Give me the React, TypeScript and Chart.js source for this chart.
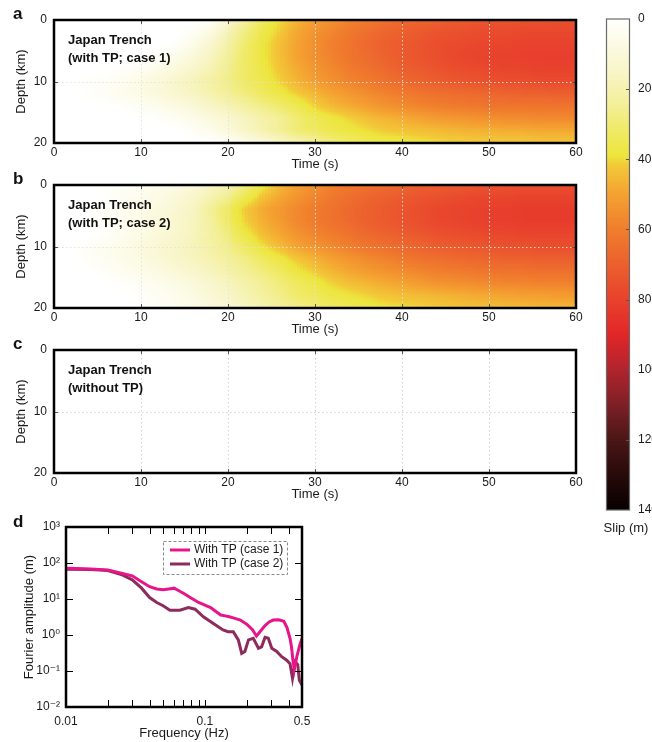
import React, { useEffect, useRef } from "react";
import { Chart, registerables } from "chart.js";
Chart.register(...registerables);

const FONT = "'Liberation Sans', Arial, Helvetica, 'DejaVu Sans', sans-serif";

// ---------- Panels a, b, c : slip (m) vs time (s) and depth (km) ----------
const timeGrid = [0, 2, 4, 6, 8, 10, 12, 14, 16, 18, 20, 22, 24, 26, 28, 30, 32, 34, 36, 38, 40, 42, 44, 46, 48, 50, 52, 54, 56, 58, 60];
const depthGrid = [0, 2, 4, 6, 8, 10, 12, 14, 16, 18, 20];
const timeTicks = [0, 10, 20, 30, 40, 50, 60];
const depthTicks = [0, 10, 20];

// rows = depthGrid, columns = timeGrid
const slipCase1: number[][] = [
  [0, 0, 0, 0, 0, 0, 0, 0, 0, 2, 12, 24, 33, 40, 46, 51, 55, 59, 62, 65, 67, 69, 70, 72, 73, 74, 74, 75, 75, 76, 76],
  [0, 0, 0, 0, 0, 0, 0, 0, 2, 8, 18, 28, 36, 42, 49, 54, 58, 62, 65, 68, 70, 72, 74, 75, 76, 77, 77, 78, 78, 78, 78],
  [0, 0, 0, 0, 0, 0, 0, 1, 6, 13, 22, 31, 38, 44, 50, 55, 60, 63, 67, 70, 72, 74, 76, 77, 78, 79, 79, 80, 80, 80, 80],
  [0, 0, 0, 0, 0, 0, 2, 5, 10, 16, 24, 32, 38, 44, 50, 55, 59, 63, 66, 69, 72, 74, 76, 78, 79, 80, 80, 81, 81, 81, 81],
  [0, 0, 0, 0, 1, 3, 6, 10, 14, 19, 26, 32, 37, 43, 48, 53, 57, 61, 64, 67, 70, 72, 74, 76, 77, 78, 79, 79, 80, 80, 80],
  [0, 0, 1, 2, 4, 7, 10, 14, 18, 22, 27, 32, 36, 41, 46, 51, 55, 58, 61, 64, 67, 69, 71, 73, 74, 75, 76, 76, 77, 77, 77],
  [0, 0, 1, 3, 5, 7, 10, 13, 16, 20, 25, 29, 33, 37, 42, 46, 50, 53, 56, 59, 61, 63, 65, 66, 67, 68, 69, 70, 70, 71, 71],
  [0, 0, 0, 0, 1, 3, 5, 8, 11, 15, 19, 23, 27, 31, 35, 41, 45, 48, 51, 54, 56, 58, 60, 61, 62, 63, 63, 63, 63, 63, 63],
  [0, 0, 0, 0, 0, 0, 1, 3, 6, 9, 13, 17, 21, 25, 30, 35, 38, 41, 44, 46, 48, 50, 52, 53, 54, 55, 56, 56, 57, 57, 57],
  [0, 0, 0, 0, 0, 0, 0, 0, 2, 5, 10, 15, 20, 25, 30, 33, 36, 38, 40, 42, 43, 44, 45, 46, 47, 47, 48, 48, 49, 49, 49],
  [0, 0, 0, 0, 0, 0, 0, 0, 0, 0, 2, 6, 10, 15, 20, 25, 29, 32, 35, 37, 38, 39, 40, 41, 41, 42, 42, 42, 43, 43, 43],
];

const slipCase2: number[][] = [
  [0, 0, 0, 1, 2, 3, 5, 7, 10, 15, 20, 28, 37, 45, 51, 55, 59, 62, 64, 66, 68, 70, 71, 72, 73, 74, 74, 75, 75, 75, 76],
  [0, 0, 0, 1, 3, 5, 7, 10, 14, 19, 26, 35, 43, 49, 54, 58, 62, 65, 68, 70, 72, 74, 75, 77, 78, 79, 79, 80, 80, 80, 80],
  [0, 0, 0, 2, 4, 6, 9, 12, 16, 24, 33, 42, 48, 53, 57, 61, 64, 67, 70, 72, 74, 76, 78, 79, 80, 81, 81, 82, 82, 82, 82],
  [0, 0, 0, 2, 4, 7, 10, 13, 17, 23, 32, 41, 47, 52, 57, 61, 64, 67, 70, 72, 74, 76, 78, 79, 80, 81, 81, 82, 82, 82, 82],
  [0, 0, 0, 1, 4, 7, 10, 13, 17, 22, 29, 37, 44, 49, 54, 58, 61, 64, 67, 69, 71, 73, 75, 76, 77, 78, 78, 79, 79, 79, 79],
  [0, 0, 2, 4, 6, 9, 12, 15, 18, 22, 27, 33, 39, 45, 50, 54, 57, 60, 63, 65, 67, 69, 71, 72, 73, 74, 75, 75, 76, 76, 76],
  [0, 0, 2, 4, 6, 8, 11, 14, 17, 20, 24, 28, 33, 38, 43, 47, 51, 54, 57, 59, 62, 64, 65, 67, 68, 69, 70, 70, 71, 71, 71],
  [0, 0, 0, 2, 4, 6, 8, 11, 14, 17, 21, 25, 29, 33, 38, 42, 46, 49, 52, 54, 56, 58, 60, 61, 62, 63, 64, 64, 65, 65, 65],
  [0, 0, 0, 0, 1, 3, 5, 7, 10, 13, 17, 21, 25, 29, 33, 37, 41, 44, 46, 48, 50, 52, 54, 55, 56, 57, 58, 58, 59, 59, 59],
  [0, 0, 0, 0, 0, 1, 3, 5, 8, 11, 15, 19, 23, 27, 31, 34, 37, 39, 41, 43, 44, 45, 46, 47, 48, 49, 50, 51, 51, 52, 52],
  [0, 0, 0, 0, 0, 1, 2, 4, 6, 9, 12, 16, 20, 24, 27, 30, 33, 35, 37, 39, 40, 41, 42, 43, 44, 44, 45, 45, 46, 46, 46],
];

// ---------- Colour bar ----------
const slipTicks = [0, 20, 40, 60, 80, 100, 120, 140];

// ---------- Panel d : Fourier amplitude spectra ----------
const freqCase1 = [0.01, 0.012, 0.015, 0.02, 0.025, 0.03, 0.035, 0.04, 0.045, 0.05, 0.055, 0.06, 0.065, 0.07, 0.08, 0.09, 0.1, 0.11, 0.12, 0.13, 0.14, 0.15, 0.16, 0.18, 0.2, 0.22, 0.235, 0.25, 0.27, 0.29, 0.31, 0.34, 0.37, 0.39, 0.41, 0.42, 0.43, 0.44, 0.45, 0.46, 0.48, 0.5];
const ampCase1 = [71, 70, 68, 64, 52, 44, 30, 22, 19, 18, 19, 20, 17, 14.5, 10.5, 8, 6.8, 5.8, 4.5, 3.6, 3.4, 3.2, 3.0, 2.6, 2.0, 1.4, 0.94, 1.25, 1.8, 2.3, 2.6, 2.65, 2.4, 1.6, 0.8, 0.47, 0.2, 0.11, 0.17, 0.26, 0.5, 0.8];
const freqCase2 = [0.01, 0.015, 0.02, 0.025, 0.03, 0.035, 0.04, 0.045, 0.05, 0.056, 0.066, 0.076, 0.085, 0.0975, 0.115, 0.135, 0.147, 0.16, 0.174, 0.184, 0.194, 0.206, 0.223, 0.243, 0.256, 0.271, 0.286, 0.303, 0.329, 0.357, 0.388, 0.41, 0.427, 0.446, 0.466, 0.478, 0.5];
const ampCase2 = [67, 66, 62, 48, 34, 20, 11, 8, 6.5, 4.9, 4.9, 5.8, 5.2, 3.2, 2.1, 1.38, 1.24, 1.24, 0.73, 0.31, 0.35, 0.73, 0.81, 0.43, 0.47, 0.86, 0.81, 0.43, 0.35, 0.25, 0.2, 0.16, 0.063, 0.18, 0.15, 0.056, 0.041];
const freqTicks = [0.01, 0.1, 0.5];
const freqMinorTicks = [0.02, 0.03, 0.04, 0.05, 0.06, 0.07, 0.08, 0.09, 0.2, 0.3, 0.4];
const ampTicks = [0.01, 0.1, 1, 10, 100, 1000];
const ampTickLabels = ["10\u207B\u00B2", "10\u207B\u00B9", "10\u2070", "10\u00B9", "10\u00B2", "10\u00B3"];

// colour map (style)
const CMAP: number[][] = [
  [0, 255, 255, 255], [5, 253, 252, 236], [15, 248, 245, 200], [25, 243, 239, 150], [33, 239, 233, 95],
  [39, 237, 229, 60], [42, 242, 200, 56], [50, 244, 162, 49], [60, 240, 126, 45], [70, 236, 96, 46],
  [80, 232, 66, 45], [90, 226, 38, 40], [100, 178, 36, 46], [110, 125, 32, 38], [120, 75, 22, 22],
  [130, 40, 10, 10], [140, 8, 0, 0],
];
function slipColor(v: number): string {
  if (v <= CMAP[0][0]) return `rgb(${CMAP[0][1]},${CMAP[0][2]},${CMAP[0][3]})`;
  for (let k = 0; k < CMAP.length - 1; k++) {
    const a = CMAP[k], b = CMAP[k + 1];
    if (v <= b[0]) {
      const f = (v - a[0]) / (b[0] - a[0]);
      const r = Math.round(a[1] + (b[1] - a[1]) * f);
      const g = Math.round(a[2] + (b[2] - a[2]) * f);
      const bl = Math.round(a[3] + (b[3] - a[3]) * f);
      return `rgb(${r},${g},${bl})`;
    }
  }
  const l = CMAP[CMAP.length - 1];
  return `rgb(${l[1]},${l[2]},${l[3]})`;
}

const tickFont = { family: FONT, size: 12 };
const titleFont = { family: FONT, size: 13 };
const TXT = "#1a1a1a";

function makeHeatChart(canvas: HTMLCanvasElement, matrix: number[][] | null, letter: string, lines: string[]) {
  const plugin = {
    id: "heatPanel",
    beforeDraw(chart: any) {
      const { ctx, chartArea: a } = chart;
      const xs = chart.scales.x, ys = chart.scales.y;
      ctx.save();
      ctx.beginPath();
      ctx.rect(a.left, a.top, a.right - a.left, a.bottom - a.top);
      ctx.clip();
      if (matrix) {
        const SUBT = 6, SUBD = 6;
        for (let i = 0; i < depthGrid.length - 1; i++) {
          for (let j = 0; j < timeGrid.length - 1; j++) {
            const v00 = matrix[i][j], v01 = matrix[i][j + 1], v10 = matrix[i + 1][j], v11 = matrix[i + 1][j + 1];
            if (v00 === 0 && v01 === 0 && v10 === 0 && v11 === 0) continue;
            for (let p = 0; p < SUBD; p++) {
              const d0 = depthGrid[i] + (depthGrid[i + 1] - depthGrid[i]) * (p / SUBD);
              const d1 = depthGrid[i] + (depthGrid[i + 1] - depthGrid[i]) * ((p + 1) / SUBD);
              const fd = (p + 0.5) / SUBD;
              const py0 = ys.getPixelForValue(d0), py1 = ys.getPixelForValue(d1);
              const Y0 = Math.floor(Math.min(py0, py1)), Y1 = Math.ceil(Math.max(py0, py1));
              for (let q = 0; q < SUBT; q++) {
                const t0 = timeGrid[j] + (timeGrid[j + 1] - timeGrid[j]) * (q / SUBT);
                const t1 = timeGrid[j] + (timeGrid[j + 1] - timeGrid[j]) * ((q + 1) / SUBT);
                const ft = (q + 0.5) / SUBT;
                const v = (1 - fd) * ((1 - ft) * v00 + ft * v01) + fd * ((1 - ft) * v10 + ft * v11);
                const px0 = xs.getPixelForValue(t0), px1 = xs.getPixelForValue(t1);
                const X0 = Math.floor(Math.min(px0, px1)), X1 = Math.ceil(Math.max(px0, px1));
                ctx.fillStyle = slipColor(v);
                ctx.fillRect(X0, Y0, X1 - X0, Y1 - Y0);
              }
            }
          }
        }
      }
      // dotted grid
      ctx.strokeStyle = matrix ? "rgba(225,225,225,0.95)" : "rgba(210,210,210,0.95)";
      ctx.lineWidth = 1;
      ctx.setLineDash([1.5, 2.5]);
      for (const t of timeTicks) {
        if (t <= xs.min || t >= xs.max) continue;
        const x = Math.round(xs.getPixelForValue(t)) + 0.5;
        ctx.beginPath(); ctx.moveTo(x, a.top); ctx.lineTo(x, a.bottom); ctx.stroke();
      }
      for (const d of depthTicks) {
        if (d <= ys.min || d >= ys.max) continue;
        const y = Math.round(ys.getPixelForValue(d)) + 0.5;
        ctx.beginPath(); ctx.moveTo(a.left, y); ctx.lineTo(a.right, y); ctx.stroke();
      }
      ctx.restore();
    },
    afterDraw(chart: any) {
      const { ctx, chartArea: a } = chart;
      const xs = chart.scales.x, ys = chart.scales.y;
      ctx.save();
      ctx.strokeStyle = "#555";
      ctx.lineWidth = 1;
      for (const t of timeTicks) {
        if (t <= xs.min || t >= xs.max) continue;
        const x = Math.round(xs.getPixelForValue(t)) + 0.5;
        ctx.beginPath(); ctx.moveTo(x, a.top); ctx.lineTo(x, a.top + 4); ctx.stroke();
        ctx.beginPath(); ctx.moveTo(x, a.bottom); ctx.lineTo(x, a.bottom - 4); ctx.stroke();
      }
      for (const d of depthTicks) {
        if (d <= ys.min || d >= ys.max) continue;
        const y = Math.round(ys.getPixelForValue(d)) + 0.5;
        ctx.beginPath(); ctx.moveTo(a.left, y); ctx.lineTo(a.left + 4, y); ctx.stroke();
        ctx.beginPath(); ctx.moveTo(a.right, y); ctx.lineTo(a.right - 4, y); ctx.stroke();
      }
      ctx.strokeStyle = "#000";
      ctx.lineWidth = 2.5;
      ctx.strokeRect(a.left, a.top, a.right - a.left, a.bottom - a.top);
      ctx.fillStyle = "#111";
      ctx.font = `bold 13px ${FONT}`;
      ctx.textBaseline = "middle";
      ctx.textAlign = "left";
      lines.forEach((s, k) => ctx.fillText(s, a.left + 14, a.top + 20 + k * 18));
      ctx.font = `bold 17px ${FONT}`;
      ctx.textBaseline = "alphabetic";
      ctx.fillText(letter, 13, 18.5);
      ctx.restore();
    },
  };
  return new Chart(canvas, {
    type: "scatter",
    data: { datasets: [] },
    options: {
      responsive: false,
      animation: false,
      layout: { padding: { top: 20, right: 24, left: 0, bottom: 0 } },
      plugins: { legend: { display: false }, tooltip: { enabled: false } },
      scales: {
        x: {
          type: "linear", min: 0, max: 60, position: "bottom",
          afterBuildTicks: (s: any) => { s.ticks = timeTicks.map((v) => ({ value: v })); },
          afterFit: (s: any) => { s.height = 29; },
          grid: { display: false, drawTicks: false },
          border: { display: false },
          ticks: { font: tickFont, color: TXT, padding: 2, maxRotation: 0, autoSkip: false },
          title: { display: true, text: "Time (s)", font: titleFont, color: TXT, padding: { top: 0, bottom: 0 } },
        },
        y: {
          type: "linear", min: 0, max: 20, reverse: true, position: "left",
          afterBuildTicks: (s: any) => { s.ticks = depthTicks.map((v) => ({ value: v })); },
          afterFit: (s: any) => { s.width = 54; },
          grid: { display: false, drawTicks: false },
          border: { display: false },
          ticks: { font: tickFont, color: TXT, padding: 7, autoSkip: false },
          title: { display: true, text: "Depth (km)", font: titleFont, color: TXT, padding: { top: 14, bottom: 0 } },
        },
      },
    },
    plugins: [plugin],
  } as any);
}

function makeColorbar(canvas: HTMLCanvasElement) {
  const plugin = {
    id: "cbar",
    beforeDraw(chart: any) {
      const { ctx, chartArea: a } = chart;
      const ys = chart.scales.y;
      ctx.save();
      for (let v = ys.min; v < ys.max; v += 0.5) {
        const p0 = ys.getPixelForValue(v), p1 = ys.getPixelForValue(v + 0.5);
        const Y0 = Math.floor(Math.min(p0, p1)), Y1 = Math.ceil(Math.max(p0, p1));
        ctx.fillStyle = slipColor(v + 0.25);
        ctx.fillRect(a.left, Y0, a.right - a.left, Y1 - Y0);
      }
      ctx.restore();
    },
    afterDraw(chart: any) {
      const { ctx, chartArea: a } = chart;
      const ys = chart.scales.y;
      ctx.save();
      ctx.strokeStyle = "#555";
      ctx.lineWidth = 1;
      for (const v of slipTicks) {
        if (v <= ys.min || v >= ys.max) continue;
        const y = Math.round(ys.getPixelForValue(v)) + 0.5;
        ctx.beginPath(); ctx.moveTo(a.right - 4, y); ctx.lineTo(a.right, y); ctx.stroke();
      }
      ctx.strokeStyle = "#6a6a6a";
      ctx.lineWidth = 1.2;
      ctx.strokeRect(a.left + 0.5, a.top, a.right - a.left - 1, a.bottom - a.top);
      ctx.fillStyle = TXT;
      ctx.font = `13px ${FONT}`;
      ctx.textAlign = "center";
      ctx.textBaseline = "middle";
      ctx.fillText("Slip (m)", 36, 528);
      ctx.restore();
    },
  };
  return new Chart(canvas, {
    type: "scatter",
    data: { datasets: [] },
    options: {
      responsive: false,
      animation: false,
      layout: { padding: { top: 19, right: 0, left: 16, bottom: 35 } },
      plugins: { legend: { display: false }, tooltip: { enabled: false } },
      scales: {
        x: { display: false, min: 0, max: 1 },
        y: {
          type: "linear", min: 0, max: 140, reverse: true, position: "right",
          afterBuildTicks: (s: any) => { s.ticks = slipTicks.map((v) => ({ value: v })); },
          afterFit: (s: any) => { s.width = 22; },
          grid: { display: false, drawTicks: false },
          border: { display: false },
          ticks: { font: tickFont, color: TXT, padding: 8, autoSkip: false },
        },
      },
    },
    plugins: [plugin],
  } as any);
}

function makeSpectrum(canvas: HTMLCanvasElement) {
  const plugin = {
    id: "spec",
    afterDraw(chart: any) {
      const { ctx, chartArea: a } = chart;
      const xs = chart.scales.x, ys = chart.scales.y;
      ctx.save();
      ctx.strokeStyle = "#000";
      ctx.lineWidth = 1;
      const TL = 7;
      for (const f of [...freqTicks, ...freqMinorTicks]) {
        if (f <= xs.min || f >= xs.max) continue;
        const x = Math.round(xs.getPixelForValue(f)) + 0.5;
        ctx.beginPath(); ctx.moveTo(x, a.top); ctx.lineTo(x, a.top + TL); ctx.stroke();
        ctx.beginPath(); ctx.moveTo(x, a.bottom); ctx.lineTo(x, a.bottom - TL); ctx.stroke();
      }
      for (const v of ampTicks) {
        if (v <= ys.min || v >= ys.max) continue;
        const y = Math.round(ys.getPixelForValue(v)) + 0.5;
        ctx.beginPath(); ctx.moveTo(a.left, y); ctx.lineTo(a.left + TL, y); ctx.stroke();
        ctx.beginPath(); ctx.moveTo(a.right, y); ctx.lineTo(a.right - TL, y); ctx.stroke();
      }
      ctx.lineWidth = 2.5;
      ctx.strokeRect(a.left, a.top, a.right - a.left, a.bottom - a.top);
      // legend
      const lx = 163.5, ly = 41.5, lw = 124, lh = 33;
      ctx.fillStyle = "#fff";
      ctx.fillRect(lx, ly, lw, lh);
      ctx.strokeStyle = "#8a8a8a";
      ctx.lineWidth = 1;
      ctx.setLineDash([3, 2]);
      ctx.strokeRect(lx, ly, lw, lh);
      ctx.setLineDash([]);
      ctx.font = `12px ${FONT}`;
      ctx.textAlign = "left";
      ctx.textBaseline = "middle";
      chart.data.datasets.forEach((ds: any, k: number) => {
        const y = 50 + k * 14;
        ctx.strokeStyle = ds.borderColor;
        ctx.lineWidth = 3;
        ctx.beginPath(); ctx.moveTo(170, y); ctx.lineTo(190, y); ctx.stroke();
        ctx.fillStyle = TXT;
        ctx.fillText(ds.label, 194, y);
      });
      ctx.fillStyle = "#111";
      ctx.font = `bold 17px ${FONT}`;
      ctx.textBaseline = "alphabetic";
      ctx.fillText("d", 13, 27);
      ctx.restore();
    },
  };
  return new Chart(canvas, {
    type: "scatter",
    data: {
      datasets: [
        {
          label: "With TP (case 1)",
          data: freqCase1.map((f, i) => ({ x: f, y: ampCase1[i] })),
          showLine: true, borderColor: "#e6168a", borderWidth: 3, pointRadius: 0, tension: 0,
        },
        {
          label: "With TP (case 2)",
          data: freqCase2.map((f, i) => ({ x: f, y: ampCase2[i] })),
          showLine: true, borderColor: "#8d2b5c", borderWidth: 3, pointRadius: 0, tension: 0,
        },
      ],
    },
    options: {
      responsive: false,
      animation: false,
      layout: { padding: { top: 27, right: 28, left: 0, bottom: 0 } },
      plugins: { legend: { display: false }, tooltip: { enabled: false } },
      scales: {
        x: {
          type: "logarithmic", min: 0.01, max: 0.5, position: "bottom",
          afterBuildTicks: (s: any) => { s.ticks = freqTicks.map((v) => ({ value: v })); },
          afterFit: (s: any) => { s.height = 35; },
          grid: { display: false, drawTicks: false },
          border: { display: false },
          ticks: { font: tickFont, color: TXT, padding: 7, maxRotation: 0, autoSkip: false, callback: (v: any, i: number) => String(freqTicks[i]) },
          title: { display: true, text: "Frequency (Hz)", font: titleFont, color: TXT, padding: { top: 0, bottom: 1 } },
        },
        y: {
          type: "logarithmic", min: 0.01, max: 1000, position: "left",
          afterBuildTicks: (s: any) => { s.ticks = ampTicks.map((v) => ({ value: v })); },
          afterFit: (s: any) => { s.width = 66; },
          grid: { display: false, drawTicks: false },
          border: { display: false },
          ticks: { font: tickFont, color: TXT, padding: 6, autoSkip: false, callback: (v: any, i: number) => ampTickLabels[i] },
          title: { display: true, text: "Fourier amplitude (m)", font: titleFont, color: TXT, padding: { top: 22, bottom: 0 } },
        },
      },
    },
    plugins: [plugin],
  } as any);
}

export default function App() {
  const aRef = useRef<HTMLCanvasElement>(null);
  const bRef = useRef<HTMLCanvasElement>(null);
  const cRef = useRef<HTMLCanvasElement>(null);
  const cbRef = useRef<HTMLCanvasElement>(null);
  const dRef = useRef<HTMLCanvasElement>(null);

  useEffect(() => {
    const charts: Chart[] = [];
    charts.push(makeHeatChart(aRef.current!, slipCase1, "a", ["Japan Trench", "(with TP; case 1)"]));
    charts.push(makeHeatChart(bRef.current!, slipCase2, "b", ["Japan Trench", "(with TP; case 2)"]));
    charts.push(makeHeatChart(cRef.current!, null, "c", ["Japan Trench", "(without TP)"]));
    charts.push(makeColorbar(cbRef.current!));
    charts.push(makeSpectrum(dRef.current!));
    return () => charts.forEach((c) => c.destroy());
  }, []);

  const abs = (left: number, top: number, w: number, h: number): React.CSSProperties => ({
    position: "absolute", left, top, width: w, height: h,
  });

  return (
    <div style={{ position: "absolute", left: 0, top: 0, width: 652, height: 742, background: "#fff", overflow: "hidden" }}>
      <canvas ref={aRef} width={600} height={172} style={abs(0, 0, 600, 172)} />
      <canvas ref={bRef} width={600} height={172} style={abs(0, 165, 600, 172)} />
      <canvas ref={cRef} width={600} height={172} style={abs(0, 330, 600, 172)} />
      <canvas ref={cbRef} width={62} height={545} style={abs(590, 0, 62, 545)} />
      <canvas ref={dRef} width={330} height={242} style={abs(0, 500, 330, 242)} />
    </div>
  );
}
